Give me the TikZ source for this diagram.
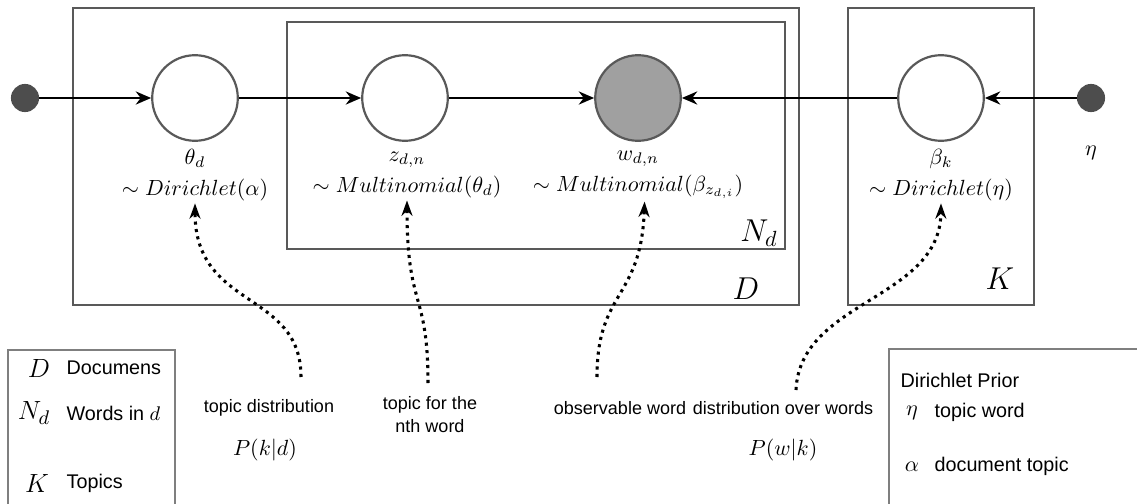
\documentclass[tikz,border=0pt]{standalone}
\usepackage{fontspec}
\setsansfont{Liberation Sans}
\usetikzlibrary{positioning, arrows.meta, calc}
\definecolor{plateBorder}{HTML}{595959}
\definecolor{nodeBorder}{HTML}{595959}
\definecolor{obsFill}{HTML}{A0A0A0}
\definecolor{hyperFill}{HTML}{4D4D4D}
\definecolor{legendBorder}{HTML}{7F7F7F}
\tikzset{
  latent/.style={circle, draw=nodeBorder, fill=white, line width=1pt,
    minimum size=1.37cm, inner sep=0pt},
  observed/.style={latent, fill=obsFill},
  hyper/.style={circle, fill=hyperFill, minimum size=0.45cm, inner sep=0pt},
  plate/.style={draw=plateBorder, line width=1pt},
  platelabel/.style={font=\Large, inner sep=1pt},
  legendbox/.style={draw=legendBorder, line width=0.6pt},
  edge/.style={-{Stealth[length=7pt, width=6pt]}, line width=0.9pt},
  hint/.style={-{Stealth[length=7pt, width=5pt]}, dotted, line width=1.4pt},
  distlabel/.style={align=center, inner sep=1pt, font=\fontsize{10.2}{14}\selectfont},
  note/.style={font=\sffamily\fontsize{8.2}{10.5}\selectfont, align=center, inner sep=1pt},
  legendmath/.style={font=\fontsize{13}{15}\selectfont, inner sep=1pt},
  legendtext/.style={font=\sffamily\small, anchor=west, inner sep=1pt},
}

\begin{document}
\begin{tikzpicture}[x=0.016cm, y=-0.016cm]
  \useasboundingbox (0,0) rectangle (1137,504);

  % === Plates ===
  \draw[plate] (73,8) rectangle (799,305);
  \draw[plate] (287,22) rectangle (785,249);
  \draw[plate] (848,8) rectangle (1034,305);
  \node[platelabel] (plateN) at (759,233) {$N_d$};
  \node[platelabel] (plateD) at (746,289) {$D$};
  \node[platelabel] (plateK) at (1000,279) {$K$};

  % === Variables ===
  \node[hyper] (alphaDot) at (25,98) {};
  \node[latent] (theta) at (195,98) {};
  \node[latent] (z) at (405,98) {};
  \node[observed] (w) at (638,98) {};
  \node[latent] (beta) at (941,98) {};
  \node[hyper] (etaDot) at (1091,98) {};
  \node (etaLbl) at (1091,153) {$\eta$};

  % labels under the circles
  \node[distlabel] (thetaLbl) at (195,175) {$\theta_d$\\$\sim Dirichlet(\alpha)$};
  \node[distlabel] (zLbl) at (407,175) {$z_{d,n}$\\$\sim Multinomial(\theta_d)$};
  \node[distlabel] (wLbl) at (638,175) {$w_{d,n}$\\$\sim Multinomial(\beta_{z_{d,i}})$};
  \node[distlabel] (betaLbl) at (941,175) {$\beta_k$\\$\sim Dirichlet(\eta)$};

  % Arrows: generative edges
  \draw[edge] (alphaDot) -- (theta);
  \draw[edge] (theta) -- (z);
  \draw[edge] (z) -- (w);
  \draw[edge] (beta) -- (w);
  \draw[edge] (etaDot) -- (beta);

  % === Annotations ===
  \node[note] (tdist) at (269,408) {topic distribution};
  \node (pkd) at (265,450) {$P(k|d)$};
  \node[note] (tword) at (430,415) {topic for the\\nth word};
  \node[note] (obs) at (620,408) {observable word};
  \node[note] (dover) at (783,408) {distribution over words};
  \node (pwk) at (783,450) {$P(w|k)$};

  \coordinate (tdistTail) at (301,377);
  \coordinate (twordTail) at (428,383);
  \coordinate (obsTail) at (597,377);
  \coordinate (doverTail) at (796,390);

  % Arrows: dotted hints
  \draw[hint] (tdistTail) .. controls (301,290) and (195,310) .. (thetaLbl.south);
  \draw[hint] (twordTail) .. controls (428,290) and (407,310) .. (zLbl.south);
  \draw[hint] (obsTail) .. controls (597,290) and (641,300) .. ([xshift=3pt]wLbl.south);
  \draw[hint] (doverTail) .. controls (800,300) and (940,300) .. (betaLbl.south);

  % === Legends ===
  \draw[legendbox] (8,520) -- (8,350) -- (175,350) -- (175,520);
  \node[legendmath] (legD) at (39,368) {$D$};
  \node[legendtext] (legDtxt) at (64,368) {Documens};
  \node[legendmath] (legN) at (34,413) {$N_d$};
  \node[legendtext] (legNtxt) at (64,413) {Words in $d$};
  \node[legendmath] (legK) at (37,483) {$K$};
  \node[legendtext] (legKtxt) at (64,483) {Topics};

  \draw[legendbox] (889,520) -- (889,349) -- (1150,349);
  \node[legendtext] (legPrior) at (898,380) {Dirichlet Prior};
  \node (legEta) at (912,413) {$\eta$};
  \node[legendtext] (legEtatxt) at (932,412) {topic word};
  \node (legAlpha) at (912,467) {$\alpha$};
  \node[legendtext] (legAlphatxt) at (932,466) {document topic};
\end{tikzpicture}
\end{document}
